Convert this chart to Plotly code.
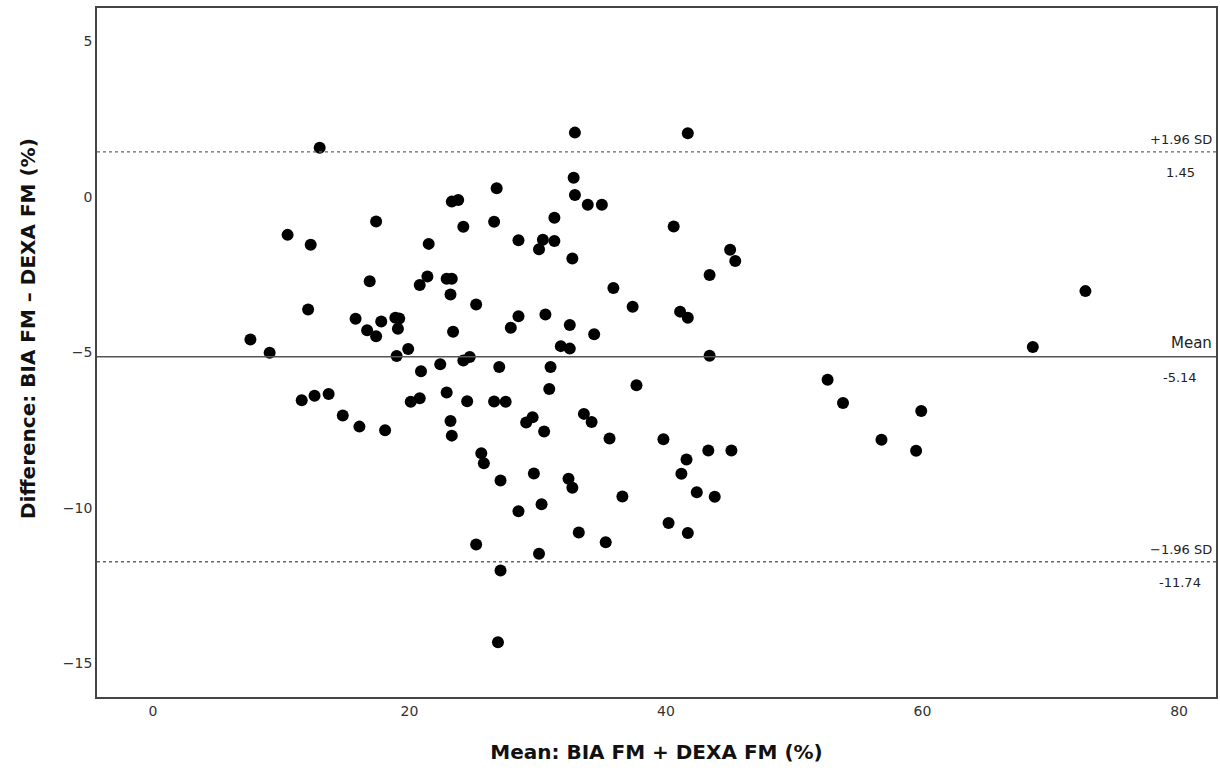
import plotly.graph_objects as go

mean_fm = [32.9, 41.7, 13.0, 32.8, 26.8, 32.9, 23.3, 23.8, 33.9, 35.0,
           24.2, 26.6, 31.3, 40.6, 17.4, 10.5, 12.3, 21.5, 28.5, 30.4,
           30.1, 31.3, 32.7, 45.0, 45.4, 21.4, 20.8, 22.9, 23.3, 23.2,
           43.4, 35.9, 25.2, 37.4, 41.1, 41.7, 28.5, 27.9, 30.6, 32.5,
           34.4, 23.4, 16.9, 12.1, 15.8, 17.8, 18.9, 19.2, 19.1, 16.7,
           17.4, 7.6, 9.1, 19.9, 19.0, 31.8, 32.5, 43.4, 24.2, 24.7,
           22.4, 20.9, 27.0, 31.0, 30.9, 37.7, 22.9, 11.6, 12.6, 13.7,
           14.8, 16.1, 18.1, 20.1, 20.8, 24.5, 26.6, 27.5, 23.2, 23.3,
           25.6, 25.8, 27.1, 25.2, 27.1, 26.9, 29.1, 29.6, 30.5, 33.6,
           34.2, 35.6, 39.8, 41.6, 43.3, 45.1, 41.2, 42.4, 43.8, 29.7,
           32.4, 32.7, 36.6, 28.5, 30.3, 40.2, 41.7, 33.2, 35.3, 30.1,
           72.7, 68.6, 52.6, 53.8, 59.9, 56.8, 59.5]
diff_fm = [2.07, 2.05, 1.58, 0.62, 0.28, 0.06, -0.15, -0.10, -0.25, -0.25,
           -0.96, -0.80, -0.67, -0.95, -0.79, -1.22, -1.54, -1.51, -1.39, -1.38,
           -1.68, -1.42, -1.98, -1.70, -2.06, -2.56, -2.83, -2.63, -2.63, -3.14,
           -2.51, -2.93, -3.46, -3.53, -3.69, -3.89, -3.84, -4.21, -3.78, -4.12,
           -4.42, -4.34, -2.71, -3.62, -3.92, -4.01, -3.89, -3.91, -4.24, -4.29,
           -4.48, -4.59, -5.01, -4.89, -5.12, -4.80, -4.88, -5.11, -5.26, -5.15,
           -5.38, -5.61, -5.47, -5.47, -6.18, -6.06, -6.29, -6.54, -6.40, -6.34,
           -7.03, -7.39, -7.51, -6.59, -6.48, -6.57, -6.58, -6.59, -7.21, -7.68,
           -8.25, -8.57, -9.12, -11.18, -12.02, -14.33, -7.26, -7.09, -7.55, -6.98,
           -7.24, -7.77, -7.80, -8.45, -8.16, -8.16, -8.91, -9.50, -9.65, -8.90,
           -9.07, -9.36, -9.64, -10.11, -9.89, -10.49, -10.81, -10.80, -11.11, -11.48,
           -3.03, -4.83, -5.88, -6.63, -6.89, -7.81, -8.17]

mean_diff = -5.14
upper_loa = 1.45
lower_loa = -11.74

x_ticks = [0, 20, 40, 60, 80]
y_ticks = [5, 0, -5, -10, -15]

fig = go.Figure()
fig.add_trace(go.Scatter(
    x=mean_fm, y=diff_fm, mode="markers",
    marker=dict(color="black", size=12, line=dict(width=0)),
    showlegend=False, hoverinfo="skip"))

fig.add_hline(y=mean_diff, line=dict(color="#555555", width=1.6))
fig.add_hline(y=upper_loa, line=dict(color="#666666", width=1.4, dash="dot"))
fig.add_hline(y=lower_loa, line=dict(color="#666666", width=1.4, dash="dot"))

lab_font = dict(family="DejaVu Sans", size=13, color="#222222")
mean_font = dict(family="DejaVu Sans", size=15, color="#222222")
for yv, top, bottom in [(upper_loa, "+1.96 SD", f"{upper_loa:.2f}"),
                        (mean_diff, "Mean", f"{mean_diff:.2f}"),
                        (lower_loa, "\u22121.96 SD", f"{lower_loa:.2f}")]:
    fig.add_annotation(x=0.9985, xref="paper", y=yv, yref="y", text=top,
                       showarrow=False, xanchor="right", yanchor="bottom",
                       yshift=3, font=mean_font if top == "Mean" else lab_font)
    fig.add_annotation(x=0.968, xref="paper", y=yv, yref="y", text=bottom,
                       showarrow=False, xanchor="center", yanchor="top",
                       yshift=-11, font=lab_font)

# y-axis title (placed slightly above centre, as in the reference)
fig.add_annotation(x=0, xref="paper", xshift=-69, xanchor="center",
                   y=0.534, yref="paper", yanchor="middle", textangle=-90,
                   text="<b>Difference: BIA FM \u2013 DEXA FM (%)</b>", showarrow=False,
                   font=dict(family="DejaVu Sans", size=20, color="#111111"))

axis_common = dict(showgrid=False, zeroline=False, showline=True, mirror=True,
                   linecolor="#444444", linewidth=1.6, ticks="",
                   tickfont=dict(family="DejaVu Sans", size=14, color="#333333"))

fig.update_xaxes(range=[-4.36, 82.88], tickvals=x_ticks,
                 title=dict(text="<b>Mean: BIA FM + DEXA FM (%)</b>",
                            font=dict(family="DejaVu Sans", size=20, color="#111111"),
                            standoff=27),
                 **axis_common)
fig.update_yaxes(range=[-16.09, 6.08], tickvals=y_ticks, **axis_common)

fig.update_layout(width=1220, height=772, plot_bgcolor="white", paper_bgcolor="white",
                  margin=dict(l=97, r=2, t=8, b=75))

fig.write_html("out.html", config={"displayModeBar": False},
               post_script="document.body.style.margin='0px';"
                           "document.documentElement.style.overflow='hidden';")
